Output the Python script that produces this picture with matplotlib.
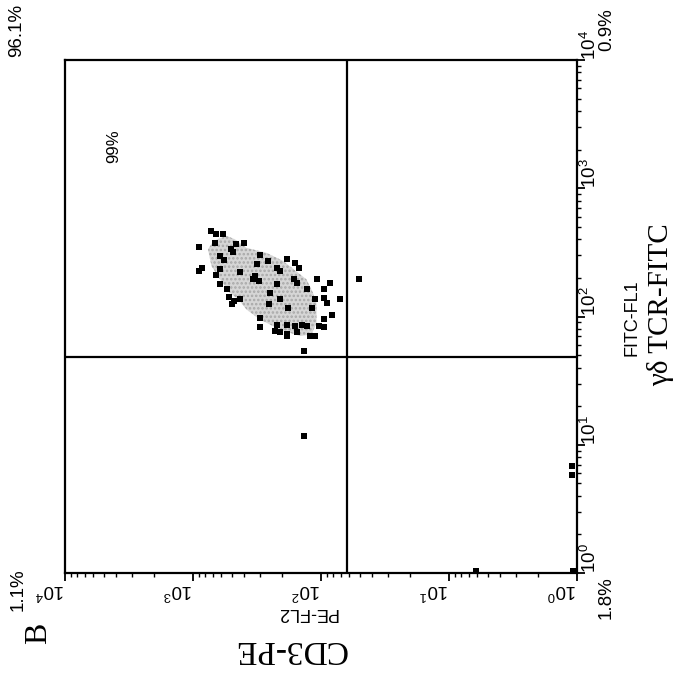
import numpy as np
import matplotlib.pyplot as plt
from matplotlib.transforms import blended_transform_factory

plt.rcParams['font.family'] = ['Liberation Sans Narrow', 'Liberation Sans', 'DejaVu Sans']
plt.rcParams['mathtext.default'] = 'regular'
plt.rcParams['hatch.linewidth'] = 1.2

# FACS channel numbers (1024 channels = 4 decades), x = PE-FL2, y = FITC-FL1
cluster_pe = [732, 723, 709, 756, 724, 693, 682, 667, 689, 715, 707, 751, 757, 715,
              634, 619, 581, 564, 557, 641, 601, 594, 674, 722, 644, 637, 649, 567,
              521, 494, 715, 601, 561, 541, 507, 701, 614, 507, 697, 687, 675, 617,
              594, 524, 501, 475, 691, 531, 579, 491, 634, 507, 601, 581, 635, 564,
              551, 541, 517, 507, 604, 594, 581, 561, 581, 534, 524, 547, 437]
cluster_fitc = [683, 676, 676, 651, 659, 647, 656, 659, 641, 633, 624, 609, 603, 607,
                634, 623, 626, 619, 609, 616, 609, 603, 601, 594, 593, 583, 586, 586,
                586, 579, 577, 576, 579, 566, 566, 567, 559, 549, 551, 543, 546, 536,
                546, 547, 539, 547, 536, 529, 528, 514, 509, 507, 496, 496, 491, 493,
                496, 493, 493, 491, 484, 481, 477, 481, 473, 474, 474, 443, 586]
other_pe = [547, 202, 8, 11, 11]
other_fitc = [273, 3, 3, 213, 196]

# outline of the grey density region
dens_pe = [727, 701, 684, 661, 621, 588, 541, 528, 521, 521, 531, 554, 594, 634,
           661, 677, 694, 714, 731, 738]
dens_fitc = [663, 673, 666, 649, 639, 623, 586, 559, 539, 499, 476, 473, 486, 506,
             526, 546, 559, 586, 613, 646]

pe_cut = 461
fitc_cut = 432
decades = [0, 1, 2, 3, 4]


def ch2val(ch):
    return 10 ** (np.asarray(ch) / 256.0)


fig = plt.figure(figsize=(6.78, 6.79), dpi=100)
ax = fig.add_axes([65 / 678, (679 - 573) / 679, 512 / 678, 513 / 679])
ax.set_xscale('log')
ax.set_yscale('log')
ax.set_xlim(1e4, 1)
ax.set_ylim(1, 1e4)
ax.yaxis.tick_right()
ax.xaxis.set_ticklabels([], minor=False)
ax.xaxis.set_ticklabels([], minor=True)
ax.yaxis.set_ticklabels([], minor=False)
ax.yaxis.set_ticklabels([], minor=True)
ax.tick_params(which='major', length=6, width=1.3, direction='out')
ax.tick_params(which='minor', length=3, width=1.0, direction='out')
for sp in ax.spines.values():
    sp.set_linewidth(1.6)

ax.fill(ch2val(dens_pe), ch2val(dens_fitc), facecolor='#d6d6d6', edgecolor='#a8a8a8',
        hatch='....', lw=0, zorder=1)
ax.scatter(ch2val(cluster_pe), ch2val(cluster_fitc), marker='s', s=22, c='black',
           linewidths=0, zorder=3)
ax.scatter(ch2val(other_pe), ch2val(other_fitc), marker='s', s=22, c='black',
           linewidths=0, zorder=3, clip_on=False)
ax.axvline(ch2val(pe_cut), color='black', lw=1.6, zorder=2)
ax.axhline(ch2val(fitc_cut), color='black', lw=1.6, zorder=2)

# tick labels (whole plot is rotated by 90 degrees)
tb = blended_transform_factory(ax.transData, ax.transAxes)
tr = blended_transform_factory(ax.transAxes, ax.transData)
for d in decades:
    ax.text(10 ** d, -0.034, r'$10^{%d}$' % d, transform=tb, rotation=180,
            rotation_mode='anchor', ha='left', va='center', fontsize=13.5)
    ax.text(1.026, 10 ** d, r'$10^{%d}$' % d, transform=tr, rotation=90,
            rotation_mode='anchor', ha='left', va='center', fontsize=13.5)


def ftext(x, y, s, **kw):
    fig.text(x / 678, 1 - y / 679, s, ha='center', va='center', **kw)


ftext(17, 30, '96.1%', rotation=90, fontsize=13.5)
ftext(607, 30, '0.9%', rotation=90, fontsize=13.5)
ftext(18, 590, '1.1%', rotation=90, fontsize=13.5)
ftext(606, 598, '1.8%', rotation=90, fontsize=13.5)
ftext(114, 146, '99%', rotation=90, fontsize=12)
ftext(307, 612, 'PE-FL2', rotation=180, fontsize=13)
ftext(632, 318, 'FITC-FL1', rotation=90, fontsize=13)
ftext(290, 649, 'CD3-PE', rotation=180, fontsize=24, family='Liberation Serif')
ftext(661, 305, 'γδ TCR-FITC', rotation=90, fontsize=21, family='Liberation Serif')
ftext(39, 633, 'B', rotation=90, fontsize=23, family='Liberation Serif')

fig.savefig('out.png', dpi=100)
